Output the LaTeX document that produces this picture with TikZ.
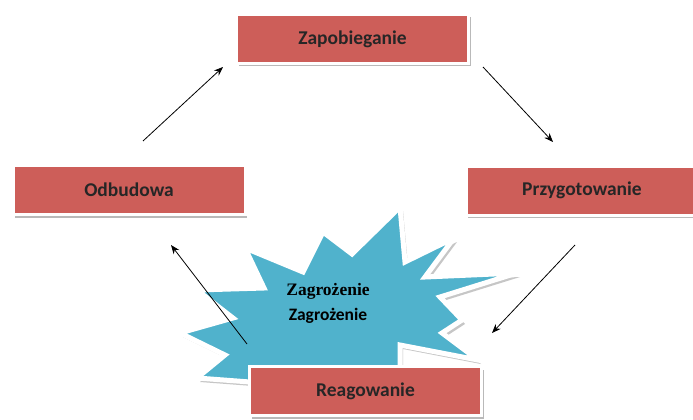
\documentclass[tikz,border=0pt]{standalone}
\usepackage{fontspec}
\setmainfont{Carlito}
\newfontfamily\serifbold{Liberation Serif}
\usetikzlibrary{shadows,arrows.meta}
\definecolor{boxred}{RGB}{205,94,89}
\definecolor{starblue}{RGB}{80,178,204}
\tikzset{
  phase/.style={rectangle, fill=boxred, draw=white, line width=3pt,
    minimum width=232pt, minimum height=49pt, inner sep=0pt,
    font=\fontsize{19.5pt}{22pt}\selectfont\bfseries, text=black!85,
    drop shadow={shadow xshift=2pt, shadow yshift=-3pt, fill=gray!55, opacity=1}},
  flow/.style={-{Stealth[length=9pt,width=7pt]}, line width=0.8pt, black}
}
\begin{document}
\begin{tikzpicture}[x=1pt,y=-1pt]
\useasboundingbox (0,0) rectangle (693,420);
\fill[white] (0,0) rectangle (693,420);
% star
\def\starpath{(180,333) -- (233,318) -- (197,290) -- (264,288) -- (245,248) -- (303,272) -- (323,232) -- (352,254) -- (400,207) -- (405,262) -- (454,238) -- (425,277) -- (517,273) -- (440,297) -- (462,320) -- (442,333) -- (478,360) -- (400,345) -- (400,372) -- (250,382) -- (197,378) -- (225,355) -- cycle}
\begin{scope}[shift={(3pt,-4pt)}]
\fill[gray!45] \starpath;
\end{scope}
\draw[white, line width=5pt, line join=miter, fill=starblue] \starpath;
\node[font=\fontsize{17.5pt}{20pt}\serifbold\bfseries] (zag1) at (328,291) {Zagrożenie};
\node[font=\fontsize{17.5pt}{20pt}\selectfont\bfseries] (zag2) at (328,316) {Zagrożenie};
% boxes
\node[phase] (zap) at (352.5,39) {Zapobieganie};
\node[phase] (odb) at (129,190) {Odbudowa};
\node[phase] (prz) at (582,190.5) {Przygotowanie};
\node[phase] (rea) at (365.5,391) {Reagowanie};
% arrows
\coordinate (a1s) at (143,141); \coordinate (a1e) at (223,67);
\coordinate (a2s) at (483,67);  \coordinate (a2e) at (553,142);
\coordinate (a3s) at (575,245); \coordinate (a3e) at (492,333);
\coordinate (a4s) at (247,344); \coordinate (a4e) at (171,245);
\draw[flow] (a1s) -- (a1e);
\draw[flow] (a2s) -- (a2e);
\draw[flow] (a3s) -- (a3e);
\draw[flow] (a4s) -- (a4e);
\end{tikzpicture}
\end{document}
